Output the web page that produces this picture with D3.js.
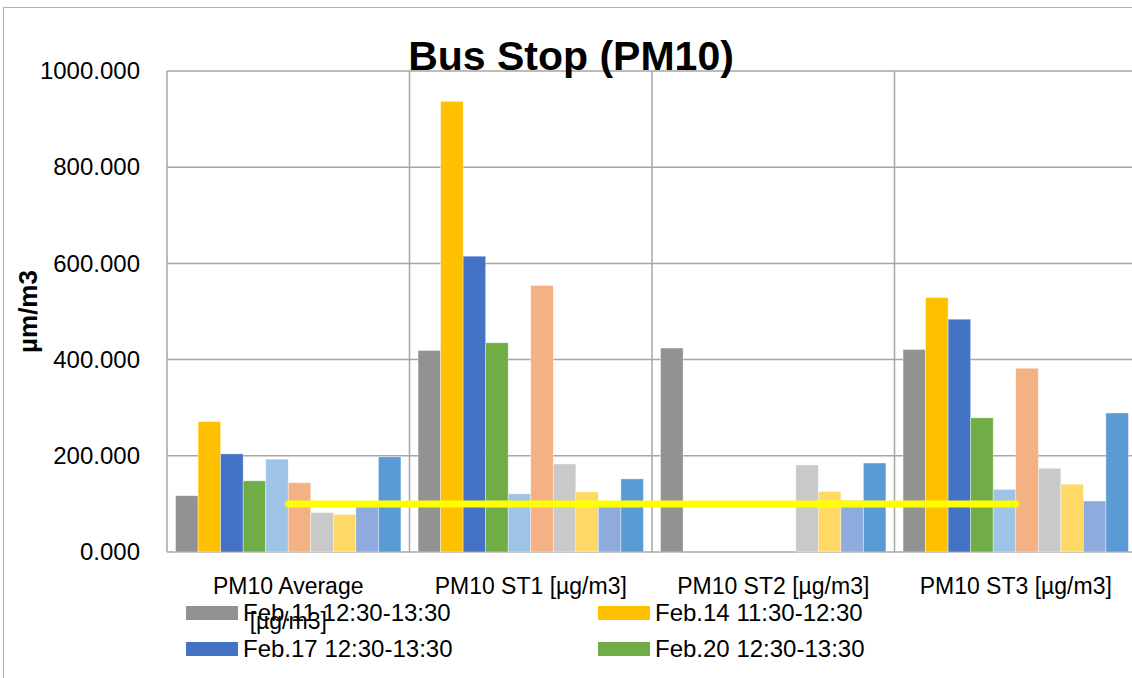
<!DOCTYPE html>
<html>
<head>
<meta charset="utf-8">
<script src="https://cdn.jsdelivr.net/npm/d3@7"></script>
<style>
  body { margin: 0; background: #fff; }
  svg { display: block; font-family: "Liberation Sans", Arial, sans-serif; }
</style>
</head>
<body>
<svg id="chart" width="1132" height="678"></svg>
<script>
// categories on the x axis
const categories = ['PM10 Average [µg/m3]', 'PM10 ST1 [µg/m3]', 'PM10 ST2 [µg/m3]', 'PM10 ST3 [µg/m3]'];

// ten measurement series (only the first four legend entries fit on the page)
const seriesIds = ['s1', 's2', 's3', 's4', 's5', 's6', 's7', 's8', 's9', 's10'];
const seriesColors = ['#929292', '#FFC000', '#4472C4', '#70AD47', '#9DC3E6',
                      '#F4B183', '#C9C9C9', '#FFD966', '#8FAADC', '#5B9BD5'];
const legendLabels = ['Feb.11 12:30-13:30', 'Feb.14 11:30-12:30', 'Feb.17 12:30-13:30', 'Feb.20 12:30-13:30'];

// values per category, one per series (null = no measurement)
const avgValues = [117, 271, 204, 148, 193, 144, 82, 78, 94, 198];
const st1Values = [419, 937, 615, 435, 121, 554, 183, 125, 100, 152];
const st2Values = [424, null, null, null, null, null, 181, 126, 107, 185];
const st3Values = [421, 529, 484, 279, 130, 382, 174, 141, 106, 289];

// limit line
const limitValues = [100, 100, 100, 100];

const yTicks = [0, 200, 400, 600, 800, 1000];

const valuesByCat = [avgValues, st1Values, st2Values, st3Values];

const svg = d3.select('#chart');
const plot = { left: 167, right: 1137, top: 71, bottom: 552 };
const gridColor = '#a6a6a6';

// outer chart border
svg.append('rect')
  .attr('x', 3.5).attr('y', 7.5)
  .attr('width', 1200).attr('height', 700)
  .attr('fill', 'none')
  .attr('stroke', '#b0b0b0')
  .attr('stroke-width', 1);

const x0 = d3.scaleBand().domain(categories).range([plot.left, plot.right]);
const x1 = d3.scaleBand().domain(seriesIds).range([0, x0.bandwidth()]).paddingOuter(0.38);
const y = d3.scaleLinear().domain([0, 1000]).range([plot.bottom, plot.top]);
const color = d3.scaleOrdinal().domain(seriesIds).range(seriesColors);

// horizontal gridlines
svg.append('g').selectAll('line').data(yTicks).enter()
  .append('line')
  .attr('x1', plot.left).attr('x2', plot.right)
  .attr('y1', d => y(d)).attr('y2', d => y(d))
  .attr('stroke', gridColor).attr('stroke-width', 1.5);

// vertical category dividers
const dividers = categories.map(c => x0(c)).concat([plot.right]);
svg.append('g').selectAll('line').data(dividers).enter()
  .append('line')
  .attr('x1', d => d).attr('x2', d => d)
  .attr('y1', plot.top).attr('y2', plot.bottom)
  .attr('stroke', gridColor).attr('stroke-width', 1.5);

// bars
const groups = svg.append('g').selectAll('g').data(categories).enter()
  .append('g')
  .attr('transform', d => 'translate(' + x0(d) + ',0)');

groups.selectAll('rect')
  .data((c, i) => seriesIds.map((s, j) => ({ s: s, v: valuesByCat[i][j] })).filter(d => d.v != null))
  .enter()
  .append('rect')
  .attr('x', d => x1(d.s))
  .attr('width', x1.bandwidth())
  .attr('y', d => y(d.v))
  .attr('height', d => y(0) - y(d.v))
  .attr('fill', d => color(d.s))
  .attr('stroke', '#fff')
  .attr('stroke-opacity', 0.5)
  .attr('stroke-width', 0.75);

// limit line
const line = d3.line()
  .x((d, i) => x0(categories[i]) + x0.bandwidth() / 2)
  .y(d => y(d));
svg.append('path')
  .attr('d', line(limitValues))
  .attr('fill', 'none')
  .attr('stroke', '#FFFF00')
  .attr('stroke-width', 7)
  .attr('stroke-linecap', 'round');

// y axis
const yAxis = svg.append('g')
  .attr('transform', 'translate(' + plot.left + ',0)')
  .call(d3.axisLeft(y).tickValues(yTicks).tickFormat(d3.format('.3f')).tickSize(0).tickPadding(27));
yAxis.select('.domain').remove();
yAxis.selectAll('text')
  .attr('font-size', 24)
  .attr('font-family', '"Liberation Sans", Arial, sans-serif')
  .attr('fill', '#000');

// x axis
const xAxis = svg.append('g')
  .attr('transform', 'translate(0,' + plot.bottom + ')')
  .call(d3.axisBottom(x0).tickSize(0).tickPadding(26));
xAxis.select('.domain').remove();
xAxis.selectAll('text')
  .attr('font-size', 23)
  .attr('font-family', '"Liberation Sans", Arial, sans-serif')
  .attr('fill', '#000')
  .call(wrap, x0.bandwidth() - 24, 35);

function wrap(texts, width, lineHeight) {
  texts.each(function() {
    const text = d3.select(this);
    const words = text.text().split(/\s+/);
    const yAttr = text.attr('y');
    text.text(null);
    let lineWords = [];
    let tspan = text.append('tspan').attr('x', 0).attr('y', yAttr).attr('dy', '0.71em');
    words.forEach(w => {
      lineWords.push(w);
      tspan.text(lineWords.join(' '));
      if (tspan.node().getComputedTextLength() > width && lineWords.length > 1) {
        lineWords.pop();
        tspan.text(lineWords.join(' '));
        lineWords = [w];
        tspan = text.append('tspan').attr('x', 0).attr('dy', lineHeight).text(w);
      }
    });
  });
}

// y axis title
svg.append('text')
  .attr('transform', 'translate(28,' + (plot.top + plot.bottom) / 2 + ') rotate(-90)')
  .attr('text-anchor', 'middle')
  .attr('dominant-baseline', 'central')
  .attr('font-size', 26)
  .attr('font-weight', 'bold')
  .text('µm/m3');

// chart title
svg.append('text')
  .attr('x', 571).attr('y', 70)
  .attr('text-anchor', 'middle')
  .attr('font-size', 41)
  .attr('font-weight', 'bold')
  .text('Bus Stop (PM10)');

// legend (two columns)
const legendCols = [186, 598];
const legendRows = [613, 649];
const legend = svg.append('g').selectAll('g').data(legendLabels).enter()
  .append('g')
  .attr('transform', (d, i) => 'translate(' + legendCols[i % 2] + ',' + legendRows[Math.floor(i / 2)] + ')');
legend.append('rect')
  .attr('x', 0).attr('y', -7)
  .attr('width', 52).attr('height', 14)
  .attr('fill', (d, i) => seriesColors[i]);
legend.append('text')
  .attr('x', 57).attr('y', 8)
  .attr('font-size', 24)
  .text(d => d);
</script>
</body>
</html>
